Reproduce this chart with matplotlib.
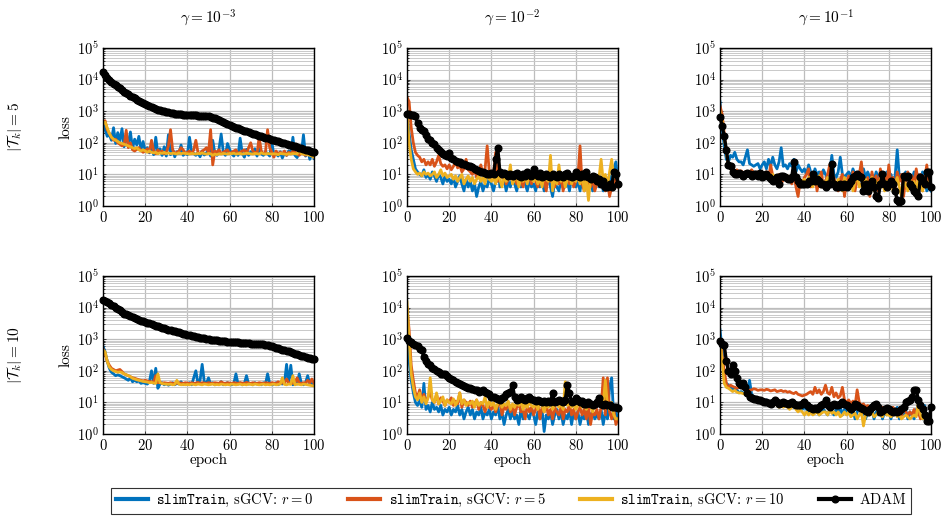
import numpy as np
import matplotlib
matplotlib.use('Agg')
import matplotlib.pyplot as plt
from matplotlib.ticker import LogLocator, FixedLocator, NullFormatter

plt.rcParams['font.family'] = 'serif'
plt.rcParams['font.serif'] = ['cmr10', 'DejaVu Serif']
plt.rcParams['mathtext.fontset'] = 'cm'
plt.rcParams['axes.formatter.use_mathtext'] = True

epochs = list(range(101))
gammas = ['$\\gamma = 10^{-3}$', '$\\gamma = 10^{-2}$', '$\\gamma = 10^{-1}$']
row_labels = ['$|\\mathcal{T}_k| = 5$', '$|\\mathcal{T}_k| = 10$']
labels = ['$\\mathtt{slimTrain}$, sGCV: $r = 0$', '$\\mathtt{slimTrain}$, sGCV: $r = 5$',
          '$\\mathtt{slimTrain}$, sGCV: $r = 10$', 'ADAM']

# --- |T_k| = 5, gamma = 1e-3
a_blue = [400, 260, 160, 180, 120, 300, 95, 210, 110, 280,
          75, 150, 100, 220, 65, 130, 85, 160, 60, 110,
          55, 70, 48, 85, 42, 150, 46, 65, 40, 75,
          38, 180, 42, 62, 36, 52, 46, 85, 40, 48,
          42, 150, 52, 46, 40, 48, 36, 55, 41, 47,
          62, 38, 120, 47, 40, 65, 190, 52, 40, 95,
          62, 45, 38, 52, 40, 140, 46, 35, 62, 40,
          52, 45, 65, 38, 72, 45, 40, 52, 46, 38,
          110, 40, 46, 38, 52, 33, 47, 40, 55, 45,
          150, 40, 34, 52, 45, 180, 38, 62, 30, 45, 32]
a_orange = [450, 500, 260, 200, 150, 120, 130, 100, 90, 80,
            85, 250, 70, 100, 60, 55, 62, 70, 58, 50,
            55, 65, 50, 120, 55, 45, 60, 50, 55, 45,
            50, 80, 260, 60, 45, 50, 55, 70, 60, 45,
            50, 55, 45, 60, 120, 50, 45, 55, 60, 70,
            50, 260, 20, 55, 50, 60, 45, 50, 55, 60,
            45, 50, 55, 60, 45, 50, 55, 60, 45, 70,
            100, 55, 50, 45, 150, 55, 45, 50, 260, 70,
            50, 35, 55, 45, 50, 45, 55, 40, 50, 45,
            55, 50, 45, 40, 50, 45, 40, 45, 50, 40, 35]
a_yellow = [400, 450, 300, 200, 150, 130, 120, 110, 100, 95,
            90, 85, 80, 75, 70, 65, 70, 60, 55, 60,
            55, 50, 55, 50, 48, 50, 45, 48, 46, 50,
            45, 48, 45, 47, 46, 44, 48, 45, 47, 46,
            45, 44, 46, 45, 44, 46, 45, 48, 45, 44,
            46, 45, 40, 44, 42, 45, 44, 46, 45, 44,
            46, 45, 47, 44, 45, 46, 44, 45, 47, 46,
            45, 44, 46, 45, 44, 48, 45, 44, 46, 45,
            44, 45, 44, 42, 46, 45, 44, 43, 45, 44,
            46, 45, 44, 60, 45, 44, 43, 42, 40, 38, 35]
a_adam = [17000, 14000, 11500, 9800, 8500, 7500, 6700, 6000, 5300, 4700,
          4200, 3800, 3400, 3100, 2800, 2550, 2300, 2100, 1950, 1800,
          1650, 1550, 1450, 1350, 1270, 1200, 1130, 1070, 1020, 980,
          940, 910, 880, 850, 830, 810, 800, 790, 780, 770,
          760, 750, 745, 740, 735, 730, 720, 710, 700, 690,
          680, 660, 630, 590, 550, 510, 480, 450, 420, 390,
          360, 340, 320, 300, 285, 270, 255, 240, 228, 215,
          205, 195, 185, 175, 168, 160, 152, 145, 138, 132,
          126, 120, 115, 110, 105, 100, 96, 92, 88, 85,
          82, 78, 74, 70, 67, 64, 61, 58, 55, 52, 50]

# --- |T_k| = 5, gamma = 1e-2
b_blue = [1000, 200, 60, 30, 15, 12, 10, 9, 14, 8,
          10, 7, 12, 9, 6, 10, 8, 5, 9, 6,
          7, 5, 8, 4, 6, 9, 5, 3, 7, 4,
          6, 3, 5, 2, 4, 6, 3, 5, 4, 8,
          5, 3, 6, 30, 4, 5, 7, 3, 6, 4,
          8, 5, 3, 6, 4, 7, 5, 3, 6, 4,
          5, 3, 7, 4, 6, 3, 5, 8, 4, 2,
          6, 4, 3, 7, 5, 4, 6, 3, 8, 5,
          4, 6, 3, 7, 5, 4, 9, 6, 3, 5,
          7, 4, 6, 3, 5, 4, 9, 6, 15, 25, 5]
b_orange = [2800, 2000, 300, 100, 50, 40, 35, 25, 30, 20,
            25, 20, 30, 18, 25, 40, 22, 18, 20, 15,
            20, 14, 18, 25, 16, 20, 12, 15, 30, 14,
            12, 10, 15, 8, 12, 20, 10, 15, 80, 12,
            8, 10, 50, 6, 10, 8, 12, 5, 7, 10,
            6, 8, 5, 10, 7, 4, 9, 6, 8, 5,
            12, 6, 4, 8, 5, 7, 3, 10, 6, 9,
            4, 7, 5, 8, 3, 6, 10, 5, 7, 4,
            6, 8, 80, 5, 3, 10, 6, 4, 8, 3,
            5, 7, 4, 9, 3, 6, 2, 4, 5, 8, 4]
b_yellow = [1000, 100, 30, 15, 12, 10, 11, 9, 12, 10,
            11, 9, 10, 12, 8, 10, 14, 9, 11, 8,
            9, 10, 7, 9, 6, 8, 10, 5, 7, 9,
            6, 8, 5, 7, 9, 6, 8, 5, 12, 7,
            6, 8, 5, 10, 7, 4, 9, 6, 8, 20,
            5, 7, 10, 4, 8, 6, 9, 5, 12, 7,
            6, 9, 5, 8, 4, 10, 7, 6, 40, 3,
            8, 5, 20, 6, 9, 4, 7, 10, 5, 8,
            6, 9, 5, 10, 3, 7, 1.5, 8, 6, 10,
            5, 8, 30, 6, 10, 4, 12, 30, 8, 12, 6]
b_adam = [800, 800, 780, 750, 700, 430, 300, 260, 240, 180,
          130, 120, 100, 90, 70, 60, 50, 45, 40, 38,
          48, 32, 30, 26, 25, 24, 22, 21, 20, 19,
          18, 17, 15, 14, 13, 12, 12, 11, 10, 10,
          11, 10, 30, 70, 12, 10, 11, 10, 9, 10,
          9, 10, 11, 9, 8, 10, 9, 12, 10, 9,
          15, 10, 9, 11, 8, 9, 10, 9, 8, 10,
          9, 8, 10, 9, 8, 10, 11, 9, 8, 9,
          12, 9, 8, 10, 9, 12, 8, 7, 9, 8,
          6, 7, 5, 6, 4, 4, 5, 4, 12, 10, 5]

# --- |T_k| = 5, gamma = 1e-1
c_blue = [2000, 300, 80, 30, 25, 40, 35, 50, 30, 25,
          25, 20, 35, 60, 22, 20, 18, 20, 22, 15,
          20, 25, 15, 30, 18, 35, 20, 15, 25, 70,
          18, 20, 15, 22, 18, 30, 12, 20, 15, 12,
          15, 10, 20, 12, 8, 15, 10, 12, 8, 14,
          10, 8, 12, 40, 10, 8, 12, 35, 10, 8,
          10, 12, 8, 15, 10, 8, 12, 9, 15, 8,
          12, 8, 10, 6, 12, 8, 10, 7, 9, 12,
          8, 10, 6, 9, 60, 8, 10, 6, 12, 8,
          10, 7, 12, 8, 10, 6, 12, 8, 3, 4, 3]
c_orange = [1500, 800, 200, 50, 20, 15, 13, 12, 14, 12,
            13, 11, 12, 10, 12, 14, 11, 10, 12, 9,
            8, 10, 12, 7, 20, 9, 6, 8, 10, 5,
            7, 9, 6, 8, 5, 10, 4, 2, 6, 5,
            8, 10, 15, 4, 6, 9, 3, 7, 12, 4,
            6, 10, 20, 5, 8, 4, 3, 7, 10, 2,
            6, 9, 4, 12, 3, 7, 10, 25, 5, 3,
            8, 2, 12, 5, 9, 3, 15, 6, 10, 4,
            20, 5, 8, 3, 12, 6, 10, 2, 7, 12,
            5, 9, 4, 15, 6, 10, 3, 7, 20, 5, 6]
c_yellow = [1000, 500, 150, 50, 20, 15, 12, 11, 10, 11,
            10, 9, 11, 10, 9, 10, 11, 9, 8, 10,
            9, 10, 8, 9, 7, 10, 8, 9, 7, 8,
            10, 7, 9, 8, 6, 9, 7, 8, 5, 6,
            7, 5, 8, 6, 4, 7, 5, 9, 4, 6,
            5, 8, 4, 15, 6, 4, 7, 5, 3, 8,
            5, 4, 7, 3, 6, 10, 4, 5, 3, 7,
            5, 4, 8, 3, 6, 4, 7, 5, 3, 6,
            4, 7, 3, 5, 8, 4, 2, 6, 5, 3,
            7, 4, 6, 3, 8, 5, 3, 7, 4, 6, 4]
c_adam = [650, 350, 160, 60, 20, 18, 12, 10, 10, 11,
          10, 9, 10, 11, 10, 9, 10, 10, 9, 11,
          8, 9, 10, 8, 7, 6, 7, 8, 5, 9,
          9, 8, 7, 7, 8, 25, 8, 6, 5, 5,
          5, 5, 6, 6, 10, 6, 7, 6, 5, 5,
          4, 5, 5, 22, 5, 4, 4, 5, 4, 5,
          4, 5, 6, 8, 9, 10, 9, 8, 3, 5,
          3, 4, 6, 4, 2, 1.8, 5, 10, 5, 4,
          5, 6, 5, 3, 1.5, 1.3, 1.4, 9, 8, 9,
          5, 4, 3, 2.5, 2, 8, 6, 5, 12, 12, 4]

# --- |T_k| = 10, gamma = 1e-3
d_blue = [600, 400, 200, 120, 90, 80, 70, 75, 70, 65,
          60, 55, 50, 60, 45, 50, 45, 48, 40, 42,
          40, 38, 45, 100, 40, 120, 28, 38, 42, 36,
          40, 35, 38, 42, 36, 40, 38, 45, 36, 40,
          38, 42, 36, 60, 100, 40, 50, 160, 45, 40,
          60, 38, 42, 36, 40, 38, 45, 36, 40, 42,
          38, 36, 40, 80, 38, 42, 36, 40, 70, 38,
          40, 36, 42, 38, 40, 36, 42, 38, 80, 40,
          36, 38, 42, 36, 40, 38, 42, 160, 40, 150,
          36, 42, 38, 80, 40, 36, 42, 70, 38, 40, 36]
d_orange = [500, 350, 200, 150, 120, 110, 100, 105, 110, 95,
            80, 75, 70, 65, 60, 58, 55, 52, 50, 48,
            50, 48, 46, 45, 44, 70, 42, 44, 40, 42,
            41, 40, 42, 40, 41, 40, 42, 41, 40, 42,
            41, 40, 42, 40, 41, 43, 40, 42, 41, 40,
            42, 41, 40, 42, 41, 40, 45, 41, 40, 42,
            41, 40, 42, 41, 40, 42, 41, 40, 43, 41,
            40, 42, 41, 40, 42, 41, 40, 42, 41, 40,
            42, 41, 40, 45, 42, 41, 40, 55, 42, 41,
            40, 42, 60, 41, 40, 42, 41, 50, 42, 55, 40]
d_yellow = [450, 400, 200, 130, 110, 100, 95, 90, 92, 88,
            80, 75, 70, 65, 58, 55, 52, 50, 48, 46,
            45, 44, 42, 43, 41, 40, 80, 42, 40, 38,
            38, 37, 38, 36, 37, 50, 38, 36, 37, 36,
            37, 36, 38, 37, 36, 38, 37, 36, 38, 37,
            36, 37, 38, 36, 37, 36, 38, 37, 36, 37,
            36, 38, 37, 36, 37, 38, 36, 37, 36, 38,
            37, 36, 38, 37, 36, 37, 38, 36, 37, 36,
            37, 38, 36, 37, 38, 60, 37, 36, 38, 37,
            70, 36, 38, 37, 36, 38, 37, 36, 35, 34, 33]
d_adam = [18000, 16500, 15000, 13500, 12200, 11000, 10000, 9000, 8200, 7300,
          6500, 6100, 5700, 5300, 5000, 4700, 4400, 4150, 3900, 3700,
          3500, 3300, 3150, 3000, 2850, 2700, 2580, 2450, 2330, 2210,
          2100, 2010, 1930, 1850, 1770, 1700, 1630, 1570, 1510, 1450,
          1400, 1350, 1300, 1250, 1210, 1170, 1130, 1090, 1060, 1030,
          1000, 975, 950, 930, 910, 890, 875, 860, 850, 840,
          830, 820, 810, 800, 790, 780, 770, 760, 750, 740,
          730, 722, 714, 706, 698, 690, 680, 668, 650, 620,
          590, 565, 540, 515, 495, 470, 450, 430, 410, 390,
          370, 350, 332, 315, 300, 287, 275, 263, 252, 245, 240]

# --- |T_k| = 10, gamma = 1e-2
e_blue = [1500, 200, 50, 20, 10, 8, 12, 7, 40, 6,
          8, 5, 10, 6, 7, 5, 8, 4, 6, 5,
          7, 4, 6, 5, 8, 4, 6, 3, 5, 7,
          4, 6, 3, 5, 4, 7, 3, 5, 4, 6,
          3, 5, 4, 8, 3, 5, 2, 4, 6, 3,
          5, 3, 4, 2, 6, 3, 5, 4, 3, 6,
          4, 2, 5, 3, 6, 1.2, 4, 3, 5, 2,
          4, 6, 3, 5, 2, 4, 3, 6, 2, 5,
          3, 5, 2, 4, 3, 6, 2, 4, 5, 3,
          4, 3, 6, 2, 5, 3, 30, 60, 3, 5, 3]
e_orange = [10000, 2000, 150, 50, 20, 15, 25, 12, 18, 10,
            15, 20, 12, 10, 18, 9, 14, 11, 8, 12,
            10, 14, 8, 11, 9, 20, 7, 12, 10, 8,
            11, 7, 9, 12, 6, 10, 8, 5, 9, 7,
            6, 9, 5, 8, 12, 4, 7, 6, 10, 5,
            8, 4, 7, 9, 5, 6, 3, 8, 5, 7,
            4, 6, 9, 3, 7, 5, 8, 4, 6, 3,
            7, 5, 4, 8, 3, 6, 5, 9, 4, 6,
            3, 5, 7, 4, 6, 3, 8, 2, 5, 4,
            6, 3, 7, 60, 4, 60, 5, 3, 6, 2, 3]
e_yellow = [15000, 1000, 80, 30, 15, 12, 20, 10, 15, 9,
            14, 60, 12, 10, 20, 9, 11, 15, 8, 12,
            10, 9, 13, 8, 11, 20, 9, 12, 8, 10,
            9, 11, 7, 12, 8, 10, 9, 15, 7, 11,
            8, 10, 6, 9, 12, 7, 9, 8, 11, 6,
            9, 7, 10, 8, 12, 6, 9, 7, 10, 8,
            7, 9, 6, 10, 8, 5, 9, 7, 11, 6,
            8, 10, 7, 9, 6, 45, 8, 10, 7, 9,
            6, 8, 10, 7, 9, 6, 10, 8, 5, 9,
            8, 10, 7, 9, 50, 8, 6, 10, 4, 3, 3]
e_adam = [1100, 850, 800, 700, 650, 600, 500, 450, 280, 200,
          170, 150, 120, 110, 100, 90, 80, 80, 80, 70,
          60, 55, 50, 45, 40, 38, 35, 32, 30, 29,
          28, 26, 25, 24, 22, 23, 25, 22, 20, 18,
          15, 15, 14, 13, 12, 14, 15, 18, 20, 22,
          35, 15, 12, 13, 15, 13, 12, 14, 15, 13,
          12, 11, 12, 11, 10, 11, 10, 11, 10, 20,
          10, 11, 12, 11, 10, 12, 35, 20, 10, 11,
          14, 12, 10, 11, 9, 9, 10, 9, 8, 9,
          10, 14, 9, 8, 9, 8, 8, 7, 7, 7, 6.5]

# --- |T_k| = 10, gamma = 1e-1
f_blue = [2000, 500, 60, 40, 35, 30, 25, 30, 25, 20,
          22, 20, 18, 16, 50, 18, 15, 14, 13, 12,
          12, 11, 12, 10, 11, 9, 12, 10, 9, 10,
          9, 8, 10, 9, 8, 7, 9, 8, 7, 6,
          7, 6, 5, 6, 7, 5, 6, 4, 5, 6,
          5, 4, 6, 5, 4, 6, 5, 7, 4, 6,
          5, 7, 4, 6, 3, 5, 8, 4, 6, 3,
          5, 4, 6, 3, 5, 4, 7, 3, 5, 4,
          6, 3, 5, 4, 7, 3, 5, 4, 6, 3,
          5, 4, 3, 6, 4, 5, 3, 8, 2.5, 3, 2.5]
f_orange = [1000, 300, 100, 40, 30, 35, 32, 30, 28, 30,
            30, 28, 25, 26, 24, 25, 27, 26, 24, 25,
            25, 24, 26, 25, 23, 24, 25, 22, 23, 24,
            22, 23, 21, 22, 20, 19, 21, 18, 17, 16,
            17, 18, 20, 22, 18, 30, 20, 25, 18, 22,
            35, 20, 18, 30, 15, 20, 14, 16, 30, 12,
            10, 12, 9, 11, 8, 25, 10, 8, 9, 7,
            8, 7, 6, 8, 7, 6, 5, 7, 6, 5,
            6, 5, 7, 5, 6, 5, 4, 6, 5, 4,
            5, 4, 6, 4, 5, 3, 4, 5, 3, 4, 3.5]
f_yellow = [1000, 200, 40, 30, 28, 25, 22, 24, 21, 20,
            20, 19, 18, 17, 16, 15, 14, 14, 13, 12,
            10, 11, 9, 10, 9, 8, 9, 8, 7, 8,
            7, 8, 7, 6, 7, 8, 6, 5, 6, 5,
            4, 5, 4, 5, 4, 4.5, 5, 4, 4.5, 5,
            5, 4, 6, 4.5, 5, 4, 5, 3.5, 4, 5,
            4, 5, 3.5, 4, 4.5, 3, 4, 5, 1.8, 4,
            4.5, 4, 5, 3.5, 4, 5, 4, 3.5, 6, 4,
            4, 3.5, 4, 5, 3.5, 4, 3, 3.5, 4, 3.5,
            3, 3.5, 4, 3.5, 10, 4, 3, 5, 3.5, 3, 3]
f_adam = [850, 700, 650, 200, 100, 80, 150, 100, 60, 40,
          35, 40, 30, 20, 15, 14, 13, 12.5, 12, 11.5,
          11, 10.5, 10, 9.5, 9, 10, 12, 10, 9, 9.5,
          10, 9.5, 9, 9.5, 10, 9, 8, 8.5, 8, 9,
          10, 8, 7, 6.5, 6, 6.5, 6, 7, 8, 9,
          12, 8, 7, 8, 9, 8.5, 8, 9, 10, 9,
          8, 7, 6, 7, 9, 8, 7, 6.5, 6, 5.5,
          5, 6, 7, 8, 9, 7, 5, 5.5, 6, 6.5,
          6, 5.5, 5, 5.5, 5, 5.2, 6, 7, 10, 11,
          12, 15, 25, 25, 12, 8, 6, 4, 2.5, 2.5, 7]

panels = [[(a_blue, a_orange, a_yellow, a_adam),
           (b_blue, b_orange, b_yellow, b_adam),
           (c_blue, c_orange, c_yellow, c_adam)],
          [(d_blue, d_orange, d_yellow, d_adam),
           (e_blue, e_orange, e_yellow, e_adam),
           (f_blue, f_orange, f_yellow, f_adam)]]

colors = ['#0072BD', '#D95319', '#EDB120']

W, H = 942, 523
fig = plt.figure(figsize=(W / 100, H / 100), dpi=100)
lefts = [103, 407, 720]
tops = [48, 276]
aw, ah = 211, 158

handles = []
for r in range(2):
    for c in range(3):
        ax = fig.add_axes([lefts[c] / W, 1 - (tops[r] + ah) / H, aw / W, ah / H])
        blue, orange, yellow, adam = panels[r][c]
        hs = []
        for ys, col in zip([blue, orange, yellow], colors):
            h, = ax.plot(epochs, ys, color=col, lw=2.0, zorder=3)
            hs.append(h)
        h, = ax.plot(epochs, adam, color='black', lw=2.4, marker='o', ms=4.8,
                     zorder=4, clip_on=False)
        hs.append(h)
        handles = hs
        ax.set_yscale('log')
        ax.set_xlim(0, 100)
        ax.set_ylim(1, 1e5)
        ax.xaxis.set_major_locator(FixedLocator([0, 20, 40, 60, 80, 100]))
        ax.yaxis.set_major_locator(LogLocator(base=10, numticks=10))
        ax.yaxis.set_minor_locator(LogLocator(base=10, subs=np.arange(2, 10), numticks=20))
        ax.yaxis.set_minor_formatter(NullFormatter())
        ax.grid(True, which='major', color='#bdbdbd', lw=0.9, zorder=0)
        ax.grid(True, which='minor', axis='y', color='#c9c9c9', lw=0.7, zorder=0)
        ax.tick_params(which='both', direction='in', length=2, width=0.5, labelsize=10.5, pad=3)
        ax.tick_params(which='minor', length=1.2)
        for sp in ax.spines.values():
            sp.set_linewidth(1.0)
            sp.set_zorder(5)
        if c == 0:
            ax.set_ylabel('loss', fontsize=11, labelpad=3)
        if r == 1:
            ax.set_xlabel('epoch', fontsize=11, labelpad=0)
        if r == 0:
            ax.set_title(gammas[c], fontsize=11, pad=18)

fig.text(15 / W, 1 - 127 / H, row_labels[0], rotation=90, ha='center', va='center', fontsize=11)
fig.text(15 / W, 1 - 355 / H, row_labels[1], rotation=90, ha='center', va='center', fontsize=11)

leg = fig.legend(handles, labels, loc='lower left', ncol=4, mode='expand',
                 bbox_to_anchor=(104 / W, 1 - 521 / H, 814 / W, 24 / H),
                 fontsize=10.5, frameon=True, fancybox=False, edgecolor='black',
                 handlelength=2.2, borderpad=0.3, handletextpad=0.6)
leg.get_frame().set_linewidth(0.8)
for lh in leg.get_lines():
    lh.set_linewidth(3)

fig.savefig('out.png', dpi=100)
